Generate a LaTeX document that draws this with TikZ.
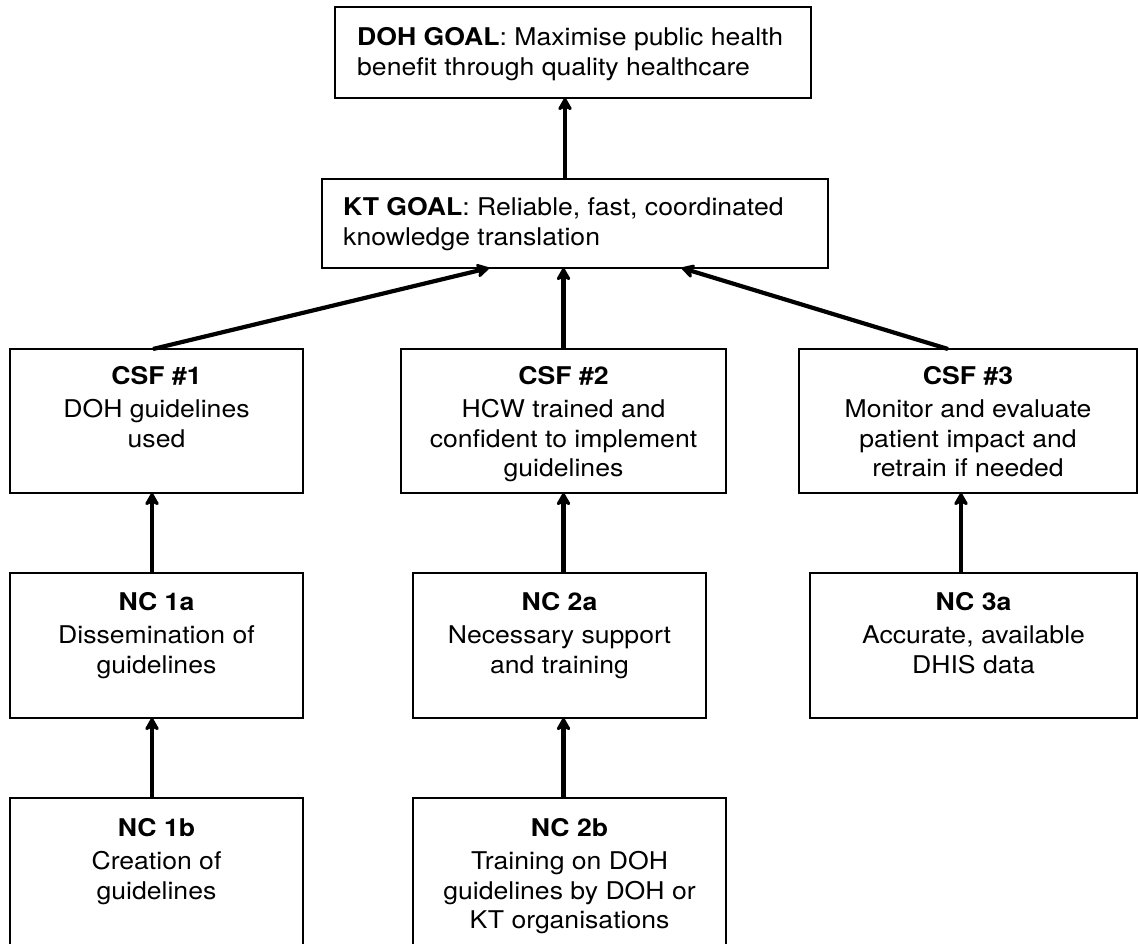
\documentclass[tikz,border=0pt]{standalone}
\usepackage{fontspec}
\setmainfont{TeX Gyre Heros}[FakeStretch=1.09]
\usetikzlibrary{arrows.meta,calc}

\tikzset{
  box/.style={draw=black, line width=1.4pt, rectangle, anchor=north west,
              inner sep=0pt, outer sep=0pt},
  ctext/.style={anchor=north, align=center, inner sep=0pt,
                font=\fontsize{24.4}{29.5}\selectfont},
  ltext/.style={anchor=north west, align=left, inner sep=0pt,
                font=\fontsize{24.4}{30}\selectfont},
  arr/.style={line width=4.2pt,
              -{Stealth[length=15pt,width=17pt,inset=4pt,round]}},
}

\begin{document}
\begin{tikzpicture}[x=1pt,y=-1pt]
  \useasboundingbox (0,0) rectangle (1138,943);
  \clip (0,0) rectangle (1138,943);

  % goals
  \node[box, minimum width=476pt, minimum height=91pt] (doh) at (335,7) {};
  \node[box, minimum width=506pt, minimum height=89pt] (kt) at (322,179) {};

  % critical success factors
  \node[box, minimum width=293pt, minimum height=144pt] (csf1) at (10,349) {};
  \node[box, minimum width=325pt, minimum height=144pt] (csf2) at (401,349) {};
  \node[box, minimum width=338pt, minimum height=144pt] (csf3) at (799,349) {};

  % necessary conditions
  \node[box, minimum width=293pt, minimum height=145pt] (nc1a) at (10,573) {};
  \node[box, minimum width=293pt, minimum height=145pt] (nc2a) at (413,573) {};
  \node[box, minimum width=327pt, minimum height=145pt] (nc3a) at (810,573) {};
  \node[box, minimum width=293pt, minimum height=170pt] (nc1b) at (10,798) {};
  \node[box, minimum width=313pt, minimum height=170pt] (nc2b) at (413,798) {};

  % box texts
  \node[ltext] (doht) at ([xshift=22pt,yshift=-20pt]doh.north west)
    {\textbf{DOH GOAL}: Maximise public health\\benefit through quality healthcare};
  \node[ltext] (ktt) at ([xshift=21pt,yshift=-18pt]kt.north west)
    {\textbf{KT GOAL}: Reliable, fast, coordinated\\knowledge translation};
  \node[ctext] (csf1t) at ([yshift=-17pt]csf1.north)
    {\textbf{CSF \#1}\\[4pt]DOH guidelines\\used};
  \node[ctext] (csf2t) at ([yshift=-17pt]csf2.north)
    {\textbf{CSF \#2}\\[4pt]HCW trained and\\confident to implement\\guidelines};
  \node[ctext] (csf3t) at ([yshift=-17pt]csf3.north)
    {\textbf{CSF \#3}\\[4pt]Monitor and evaluate\\patient impact and\\retrain if needed};
  \node[ctext] (nc1at) at ([yshift=-19pt]nc1a.north)
    {\textbf{NC 1a}\\[4pt]Dissemination of\\guidelines};
  \node[ctext] (nc2at) at ([yshift=-19pt]nc2a.north)
    {\textbf{NC 2a}\\[4pt]Necessary support\\and training};
  \node[ctext] (nc3at) at ([yshift=-19pt]nc3a.north)
    {\textbf{NC 3a}\\[4pt]Accurate, available\\DHIS data};
  \node[ctext] (nc1bt) at ([yshift=-20pt]nc1b.north)
    {\textbf{NC 1b}\\[4pt]Creation of\\guidelines};
  \node[ctext] (nc2bt) at ([yshift=-20pt]nc2b.north)
    {\textbf{NC 2b}\\[4pt]Training on DOH\\guidelines by DOH or\\KT organisations};

  % connectors
  \draw[arr] ([xshift=-10pt]kt.north) -- ([xshift=-10pt]kt.north |- doh.south);
  \draw[arr] ([xshift=-3.5pt]csf1.north) -- ($(kt.south west)!0.33!(kt.south east)$);
  \draw[arr] (csf2.north) -- (csf2.north |- kt.south);
  \draw[arr] ([xshift=-20pt]csf3.north) -- ($(kt.south west)!0.711!(kt.south east)$);
  \draw[arr] ([xshift=-4.5pt]nc1a.north) -- ([xshift=-4.5pt]csf1.south);
  \draw[arr] ([xshift=-4.5pt]nc1b.north) -- ([xshift=-4.5pt]nc1a.south);
  \draw[arr] (nc2a.north -| csf2.north) -- (csf2.south);
  \draw[arr] (nc2b.north -| csf2.north) -- (nc2a.south -| csf2.north);
  \draw[arr] ([xshift=-12.5pt]nc3a.north) -- ([xshift=-7pt]csf3.south);
\end{tikzpicture}
\end{document}
